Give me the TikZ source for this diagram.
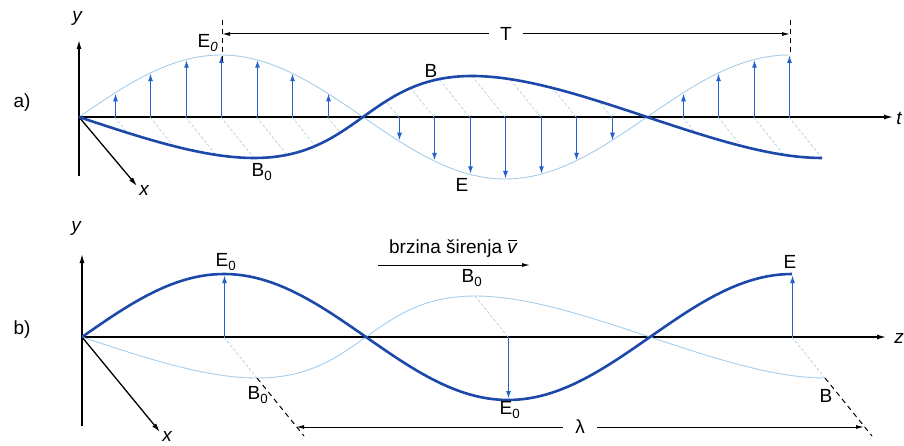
\documentclass[tikz,border=0pt]{standalone}
\usepackage{fontspec}
\setmainfont{Liberation Sans}
\usetikzlibrary{arrows.meta, calc, positioning}
\definecolor{valB}{RGB}{28,72,170}
\definecolor{strE}{RGB}{35,95,205}
\definecolor{blijed}{RGB}{165,205,235}

\begin{document}
\begin{tikzpicture}[x=1pt, y=-1pt,
  font=\fontsize{19}{21}\selectfont,
  %% osi koordinatnog sustava
  os/.style={-{Latex[length=9pt,width=5pt]}, line width=1.3pt, black},
  %% puni (jaki) val
  jaki/.style={line width=2.6pt, color=valB, line join=round},
  %% blijedi val i srafura ravnine
  slabi/.style={line width=0.9pt, color=blijed},
  srafura/.style={line width=0.6pt, color=blijed, dash pattern=on 3pt off 2pt},
  vek/.style={-{Latex[length=8pt,width=5pt]}, line width=1.5pt, color=strE},
  mjera/.style={{Latex[length=8pt,width=4pt]}-{Latex[length=8pt,width=4pt]},
    line width=1pt},
  crtkano/.style={line width=1pt, dash pattern=on 5pt off 4pt},
  oznaka/.style={inner sep=1pt},
  osoznaka/.style={font=\fontsize{19}{21}\selectfont\itshape, inner sep=1pt}
]
\useasboundingbox (0,0) rectangle (904,446);

%% ── a) polje u vremenu ─────────────────────────────────────────────────────
\coordinate (Oa)    at (79,117);
\coordinate (yaDno) at (79,176);
\coordinate (ya)    at (79,40);
\coordinate (ta)    at (893,117);
\coordinate (xa)    at (137,186);

\draw[os] (yaDno) -- (ya);
\draw[os] (Oa) -- (ta);
\draw[os] (Oa) -- (xa);

%% srafura ravnine B
\foreach \k in {1,...,20} {
  \pgfmathsetmacro\tk{79+35.5*\k}
  \pgfmathsetmacro\s{sin(22.5*\k)}
  \draw[srafura] (\tk,117) -- ({\tk+33*\s},{117+41*\s});
}

%% E (blijedo) i B (jako)
\draw[slabi] plot[domain=79:789, samples=120]
  (\x, {117-62*sin((\x-79)*0.633803)});
\draw[jaki] plot[domain=79:789, samples=120, variable=\t]
  ({\t+33*sin((\t-79)*0.633803)}, {117+41*sin((\t-79)*0.633803)});

%% vektori E
\foreach \k in {1,2,3,4,5,6,7,9,10,11,12,13,14,15,17,18,19,20} {
  \pgfmathsetmacro\tk{round(79+35.5*\k)+0.5}
  \pgfmathsetmacro\ek{117-62*sin(22.5*\k)}
  \coordinate (ea\k)  at (\tk,117);
  \coordinate (eaV\k) at (\tk,\ek);
  \draw[vek] (ea\k) -- (eaV\k);
}

%% period T
\coordinate (TlG) at (222,20);
\coordinate (TlD) at (222,64);
\coordinate (TdG) at (790,20);
\coordinate (TdD) at (790,56);
\coordinate (Tl)  at (222,34);
\coordinate (Td)  at (790,34);
\draw[crtkano, line width=0.8pt] (TlG) -- (TlD);
\draw[crtkano, line width=0.8pt] (TdG) -- (TdD);
\draw[mjera] (Tl) -- node[fill=white, inner xsep=11pt, inner ysep=2pt] {T} (Td);

\node[oznaka]   (lblA)  at (22,103)  {a)};
\node[osoznaka] (lblya) at (77,18)   {y};
\node[osoznaka] (lblxa) at (144,190) {x};
\node[osoznaka] (lblt)  at (899,118) {t};
\node[oznaka]   (lblE0a) at (208,43) {E\textsubscript{\itshape 0}};
\node[oznaka]   (lblBa)  at (431,71) {B};
\node[oznaka]   (lblB0a) at (262,172) {B\textsubscript{0}};
\node[oznaka]   (lblEa)  at (462,185) {E};

%% ── b) val u prostoru ──────────────────────────────────────────────────────
\coordinate (Ob)    at (82,337);
\coordinate (ybDno) at (82,426);
\coordinate (yb)    at (82,254);
\coordinate (zb)    at (886,337);
\coordinate (xb)    at (160,432);

\draw[os] (ybDno) -- (yb);
\draw[os] (Ob) -- (zb);
\draw[os] (Ob) -- (xb);

%% B (blijedo) i E (jako)
\draw[slabi] plot[domain=82:792, samples=120, variable=\t]
  ({\t+33*sin((\t-82)*0.633803)}, {337+41*sin((\t-82)*0.633803)});
\draw[jaki] plot[domain=82:792, samples=120]
  (\x, {337-63*sin((\x-82)*0.633803)});

%% tocke na osi i na valu B
\coordinate (zb1) at (224,337);
\coordinate (zb2) at (508,337);
\coordinate (zb3) at (792,337);
\coordinate (Bb1) at (257,378);
\coordinate (Bb2) at (475,296);
\coordinate (Bb3) at (825,378);
\coordinate (Bk1) at (304,436);
\coordinate (Bk3) at (872,436);
\draw[srafura] (zb1) -- (Bb1);
\draw[srafura] (zb2) -- (Bb2);
\draw[srafura] (zb3) -- (Bb3);
\draw[crtkano] (Bb1) -- (Bk1);
\draw[crtkano] (Bb3) -- (Bk3);

%% vektori E
\coordinate (Eb1) at (224.5,275);
\coordinate (Eb2) at (508.5,399);
\coordinate (Eb3) at (792.5,275);
\draw[vek] (zb1) ++(0.5,0) -- (Eb1);
\draw[vek] (zb2) ++(0.5,0) -- (Eb2);
\draw[vek] (zb3) ++(0.5,0) -- (Eb3);

%% valna duljina
\coordinate (lamL) at (296,427);
\coordinate (lamD) at (864,427);
\draw[mjera] (lamL) -- node[fill=white, inner xsep=12pt, inner ysep=1pt] {λ} (lamD);

%% brzina sirenja
\node[oznaka] (brz) at (453,249)
  {brzina širenja {\itshape v}\llap{\raisebox{1.3ex}{\rule{0.45em}{0.7pt}}}};
\coordinate (vL) at (378,265);
\coordinate (vD) at (530,265);
\draw[-{Latex[length=8pt,width=4pt]}, line width=1pt] (vL) -- (vD);

\node[oznaka]   (lblB)   at (22,330)  {b)};
\node[osoznaka] (lblyb)  at (76,228)  {y};
\node[osoznaka] (lblxb)  at (167,436) {x};
\node[osoznaka] (lblz)   at (899,338) {z};
\node[oznaka]   (lblE0b) at (226,262) {E\textsubscript{0}};
\node[oznaka]   (lblB0b) at (472,278) {B\textsubscript{0}};
\node[oznaka]   (lblE0c) at (510,410) {E\textsubscript{0}};
\node[oznaka]   (lblEb)  at (790,262) {E};
\node[oznaka]   (lblB0c) at (258,395) {B\textsubscript{0}};
\node[oznaka]   (lblBb)  at (826,396) {B};

\end{tikzpicture}
\end{document}
